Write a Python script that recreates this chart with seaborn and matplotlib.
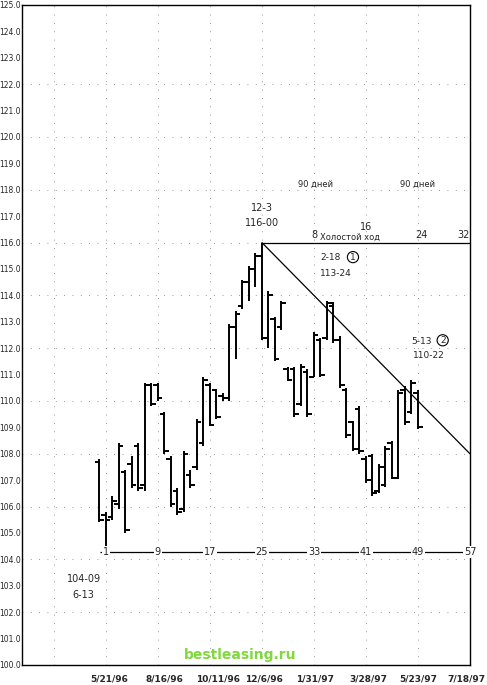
import pandas as pd
import seaborn as sns
import matplotlib.pyplot as plt

# weekly bars, week 1 = low of 6-13, week 25 = top of 12-3
weeks = list(range(0, 50))
high = [107.8, 105.8, 106.4, 108.4, 107.4, 107.9, 108.4, 110.7, 110.7, 110.7,
        109.6, 107.9, 106.7, 108.1, 107.4, 109.3, 110.9, 110.7, 110.45, 110.3,
        112.9, 113.4, 114.6, 115.1, 115.6, 116.0, 114.15, 113.2, 113.8, 111.3,
        111.3, 111.4, 111.2, 112.6, 112.4, 113.8, 113.75, 112.45, 110.5, 109.25,
        109.8, 107.9, 108.0, 107.6, 108.3, 108.5, 110.4, 110.55, 110.8, 110.4]
low = [105.4, 104.28, 105.5, 105.9, 105.0, 106.7, 106.6, 106.6, 109.8, 110.0,
       108.0, 106.0, 105.7, 105.8, 106.7, 107.4, 108.3, 109.05, 109.3, 110.0,
       110.0, 111.6, 113.5, 113.8, 114.3, 112.3, 112.0, 111.5, 112.7, 110.75,
       109.4, 109.8, 109.4, 110.9, 110.9, 112.3, 112.2, 110.5, 108.6, 108.1,
       108.0, 106.9, 106.4, 106.5, 106.75, 107.05, 107.05, 109.1, 109.5, 108.95]
opens = [107.7, 105.7, 105.6, 106.1, 107.3, 107.6, 108.3, 106.8, 110.6, 110.6,
         109.5, 107.8, 106.6, 105.9, 107.2, 107.5, 108.4, 110.6, 110.4, 110.2,
         110.1, 112.8, 113.6, 114.5, 115.0, 115.5, 112.4, 113.1, 112.8, 111.2,
         111.2, 109.9, 111.1, 110.9, 112.3, 112.4, 113.6, 112.3, 110.4, 109.2,
         109.7, 107.8, 107.9, 106.6, 106.8, 108.4, 107.1, 110.4, 109.6, 110.3]
closes = [105.5, 105.5, 106.2, 108.3, 105.1, 106.8, 106.7, 110.6, 109.9, 110.1,
          108.1, 106.1, 105.8, 108.0, 106.8, 109.2, 110.8, 109.1, 109.4, 110.1,
          112.8, 113.3, 114.5, 115.0, 115.5, 112.4, 114.0, 111.6, 113.7, 110.8,
          109.5, 111.3, 109.5, 112.5, 111.0, 113.7, 112.3, 110.6, 108.7, 108.2,
          108.1, 107.0, 106.5, 107.5, 108.2, 107.1, 110.3, 109.2, 110.7, 109.0]

date_ticks = [1.5, 10, 18.3, 25.3, 33.2, 41.3, 49, 56.5]
date_labels = ["5/21/96", "8/16/96", "10/11/96", "12/6/96",
               "1/31/97", "3/28/97", "5/23/97", "7/18/97"]

count_weeks = [1, 9, 17, 25, 33, 41, 49, 57]
count_labels = ["1", "9", "17", "25", "33", "41", "49", "57"]
idle_weeks = [33, 41, 49.5, 56]
idle_labels = ["8", "16", "24", "32"]

trend_weeks = [25, 57]
trend_prices = [116.0, 108.0]

df = pd.DataFrame({"week": weeks, "high": high, "low": low,
                   "open": opens, "close": closes})

sns.set_style("white")
plt.rcParams["font.family"] = ["DejaVu Sans"]

fig = plt.figure(figsize=(4.87, 6.85), dpi=100)
ax = fig.add_axes([22 / 487, 1 - 665 / 685, 448 / 487, 660 / 685])

# faint dotted grid
for p in range(102, 124, 2):
    ax.axhline(p, color="#777777", lw=0.6, ls=(0, (1, 9)), zorder=0)
for w in range(-7, 57, 8):
    ax.axvline(w, color="#777777", lw=0.6, ls=(0, (1, 9)), zorder=0)

# OHLC bars
ax.vlines(df["week"], df["low"], df["high"], color="black", lw=1.4)
ax.hlines(df["open"], df["week"] - 0.7, df["week"], color="black", lw=1.4)
ax.hlines(df["close"], df["week"], df["week"] + 0.7, color="black", lw=1.4)

# trend line from the top
sns.lineplot(x=trend_weeks, y=trend_prices, ax=ax, color="black", lw=0.9)

# time count line from the low
ax.hlines(low[1], count_weeks[0] - 0.9, count_weeks[-1], color="black", lw=0.9)
for w, t in zip(count_weeks, count_labels):
    ax.text(w, low[1], t, ha="center", va="center", fontsize=7,
            bbox=dict(fc="white", ec="none", pad=0.6))

# idle run line from the top
ax.hlines(116.0, 25, 57, color="black", lw=0.9)
for w, t in zip(idle_weeks, idle_labels):
    y = 116.42 if t == "16" else 116.08
    ax.text(w, y, t, ha="center", va="bottom", fontsize=7)
ax.text(34.0, 116.02, "Холостой ход", ha="left", va="bottom", fontsize=6,
        bbox=dict(fc="white", ec="none", pad=0.2))
ax.text(33.2, 118.2, "90 дней", ha="center", va="center", fontsize=6)
ax.text(49.0, 118.2, "90 дней", ha="center", va="center", fontsize=6)

# annotations
ax.text(25, 117.3, "12-3", ha="center", va="center", fontsize=7)
ax.text(25, 116.75, "116-00", ha="center", va="center", fontsize=7)
ax.text(35.5, 115.43, "2-18", ha="center", va="center", fontsize=6.5)
ax.text(39.0, 115.45, "1", ha="center", va="center", fontsize=6.5,
        bbox=dict(boxstyle="circle", fc="white", ec="black", lw=0.8, pad=0.12))
ax.text(36.4, 114.83, "113-24", ha="center", va="center", fontsize=6.5)
ax.text(49.6, 112.26, "5-13", ha="center", va="center", fontsize=6.5)
ax.text(52.8, 112.3, "2", ha="center", va="center", fontsize=6.5,
        bbox=dict(boxstyle="circle", fc="white", ec="black", lw=0.8, pad=0.12))
ax.text(50.6, 111.74, "110-22", ha="center", va="center", fontsize=6.5)
ax.text(-2.4, 103.25, "104-09", ha="center", va="center", fontsize=7)
ax.text(-2.4, 102.64, "6-13", ha="center", va="center", fontsize=7)

ax.set_xlim(-11.9, 57)
ax.set_ylim(100, 125)
ax.set_yticks(range(100, 126))
ax.set_yticklabels([f"{v:.1f}" for v in range(100, 126)], fontsize=5.5)
ax.set_xticks(date_ticks)
ax.set_xticklabels(date_labels, fontsize=6.5, fontweight="bold")
ax.tick_params(axis="both", length=0)
ax.tick_params(axis="y", pad=1)
ax.tick_params(axis="x", pad=7)
ax.set_xlabel("")
ax.set_ylabel("")
for s in ax.spines.values():
    s.set_color("black")
    s.set_linewidth(1.0)

fig.text(240 / 487, 1 - 655 / 685, "bestleasing.ru", color="#7fd83c",
         fontsize=10, fontweight="bold", ha="center", va="center")

fig.savefig("out.png", dpi=100)
